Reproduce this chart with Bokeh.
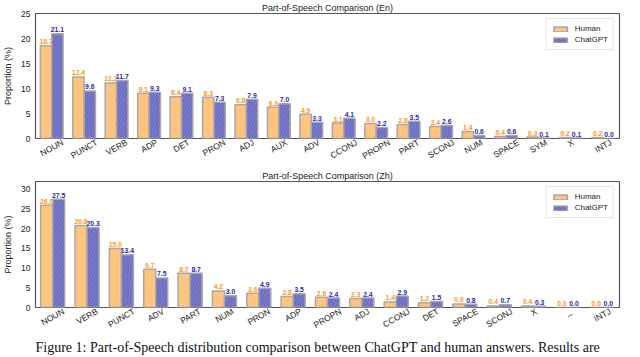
import math
from bokeh.plotting import figure
from bokeh.models import (Range1d, Legend, LegendItem, Title, ColumnDataSource, FixedTicker)
from bokeh.transform import dodge
from bokeh.layouts import column
from bokeh.core.properties import value
from bokeh.embed import file_html
from bokeh.resources import INLINE

# ---- data ----
en_categories = ["NOUN", "PUNCT", "VERB", "ADP", "DET", "PRON", "ADJ", "AUX", "ADV",
                 "CCONJ", "PROPN", "PART", "SCONJ", "NUM", "SPACE", "SYM", "X", "INTJ"]
en_human = [18.7, 12.4, 11.2, 9.1, 8.4, 8.3, 6.8, 6.3, 4.9, 3.1, 3.0, 2.8, 2.4, 1.4, 0.4, 0.3, 0.2, 0.2]
en_chatgpt = [21.1, 9.6, 11.7, 9.3, 9.1, 7.3, 7.9, 7.0, 3.3, 4.1, 2.2, 3.5, 2.6, 0.6, 0.6, 0.1, 0.1, 0.0]

zh_categories = ["NOUN", "VERB", "PUNCT", "ADV", "PART", "NUM", "PRON", "ADP", "PROPN",
                 "ADJ", "CCONJ", "DET", "SPACE", "SCONJ", "X", "_", "INTJ"]
zh_human = [26.0, 20.8, 15.0, 9.7, 8.7, 4.2, 3.6, 2.8, 2.6, 2.3, 1.4, 1.2, 0.9, 0.4, 0.4, 0.0, 0.0]
zh_chatgpt = [27.5, 20.3, 13.4, 7.5, 8.7, 3.0, 4.9, 3.5, 2.4, 2.4, 2.9, 1.5, 0.8, 0.7, 0.3, 0.0, 0.0]

series_names = ["Human", "ChatGPT"]
caption = ("Figure 1: Part-of-Speech distribution comparison between ChatGPT and human answers. "
           "Results are")

FONT = "Liberation Sans"
HUMAN_FILL = "#FFC47F"
GPT_FILL = "#7B7BCB"
HUMAN_TXT = "#FF9614"
GPT_TXT = "#2828A8"
EDGE = "#A8A8A8"
FRAME_W = 584
XLABEL_PX = 8.5

# approximate Liberation Sans advance widths (em) used to centre rotated tick labels
_EM = {"N": .722, "O": .778, "U": .722, "P": .667, "C": .722, "T": .611, "V": .667,
       "E": .667, "R": .722, "B": .667, "A": .667, "D": .722, "J": .5, "S": .667,
       "X": .667, "Y": .667, "M": .833, "I": .278, "_": .556}


def text_w(s, px):
    return sum(_EM.get(ch, .6) for ch in s) * px


def make_plot(cats, human, gpt, ymax, title, frame_h, border_top, border_bottom):
    n = len(cats)
    p = figure(x_range=Range1d(0, n),
               y_range=Range1d(0, ymax),
               frame_width=FRAME_W, frame_height=frame_h,
               min_border_left=32, min_border_right=8,
               min_border_top=border_top, min_border_bottom=border_bottom,
               output_backend="svg", toolbar_location=None,
               background_fill_color="white", border_fill_color="white")
    src = ColumnDataSource(dict(cat=cats, xc=[i + 0.5 for i in range(n)],
                                human=human, gpt=gpt,
                                hl=[f"{v:.1f}" for v in human],
                                gl=[f"{v:.1f}" for v in gpt]))
    w = 0.35
    r1 = p.vbar(x=dodge("xc", -w / 2), top="human", width=w, source=src,
                fill_color=HUMAN_FILL, line_color=EDGE, line_width=1.5)
    r2 = p.vbar(x=dodge("xc", w / 2), top="gpt", width=w, source=src,
                fill_color=GPT_FILL, line_color=EDGE, line_width=1.5,
                hatch_pattern="/", hatch_color="#5A5AB4", hatch_scale=6, hatch_weight=0.7)
    t1 = p.text(x=dodge("xc", -w / 2), y="human", text="hl", source=src,
                text_align="center", text_baseline="bottom", y_offset=-1.5,
                text_font=value(FONT), text_font_size="6.8px", text_color=HUMAN_TXT,
                text_font_style="bold")
    t2 = p.text(x=dodge("xc", w / 2), y="gpt", text="gl", source=src,
                text_align="center", text_baseline="bottom", y_offset=-1.5,
                text_font=value(FONT), text_font_size="6.8px", text_color=GPT_TXT,
                text_font_style="bold")
    t1.level = "overlay"
    t2.level = "overlay"

    p.title.text = title
    p.title.align = "center"
    p.title.text_font = FONT
    p.title.text_font_size = "9px"
    p.title.text_font_style = "normal"
    p.title.text_color = "#222222"
    p.title.standoff = 1
    p.title.offset = 0

    p.xgrid.grid_line_color = None
    p.ygrid.grid_line_color = None
    p.outline_line_color = "#555555"
    p.outline_line_width = 1.2

    # rotated category labels, shifted so each label is centred under its group
    px_per_unit = FRAME_W / n
    ang = 0.52
    ticks, overrides = [], {}
    for i, c in enumerate(cats):
        shift = (text_w(c, XLABEL_PX) / 2) * math.cos(ang) / px_per_unit
        t = round(i + 0.5 + shift, 4)
        ticks.append(t)
        overrides[t] = c
    p.xaxis.ticker = FixedTicker(ticks=ticks, minor_ticks=[])
    p.xaxis.major_label_overrides = overrides
    p.xaxis.major_label_orientation = ang
    p.xaxis.major_label_standoff = 3

    for ax in (p.xaxis[0], p.yaxis[0]):
        ax.axis_line_color = None
        ax.major_tick_line_color = None
        ax.minor_tick_line_color = None
        ax.major_tick_out = 0
        ax.major_tick_in = 0
        ax.minor_tick_out = 0
        ax.minor_tick_in = 0
        ax.major_label_text_font = FONT
        ax.major_label_text_color = "#222222"
    p.xaxis.major_label_text_font_size = f"{XLABEL_PX}px"
    p.yaxis.major_label_text_font_size = "8.5px"
    p.yaxis.major_label_standoff = 5
    p.yaxis.axis_label = "Proportion (%)"
    p.yaxis.axis_label_text_font = FONT
    p.yaxis.axis_label_text_font_size = "9px"
    p.yaxis.axis_label_text_font_style = "normal"
    p.yaxis.axis_label_text_color = "#222222"
    p.yaxis.axis_label_standoff = 5

    legend = Legend(items=[LegendItem(label=series_names[0], renderers=[r1]),
                           LegendItem(label=series_names[1], renderers=[r2])],
                    location="top_right",
                    label_text_font=FONT, label_text_font_size="8px",
                    label_text_color="#222222",
                    glyph_width=17, glyph_height=6, label_height=9,
                    spacing=2, padding=5, margin=5, label_standoff=6,
                    border_line_color="#CCCCCC", border_line_width=1,
                    background_fill_color="white", background_fill_alpha=0.9)
    p.add_layout(legend, "center")
    return p


p1 = make_plot(en_categories, en_human, en_chatgpt, 25.2,
               "Part-of-Speech Comparison (En)", 125, 0, 0)
p2 = make_plot(zh_categories, zh_human, zh_chatgpt, 32.0,
               "Part-of-Speech Comparison (Zh)", 126, 0, 0)
p2.add_layout(Title(text=caption, align="left", text_font="Liberation Serif",
                    text_font_size="14px", text_font_style="normal",
                    text_color="#111111", standoff=1, offset=0), "below")

layout = column(p1, p2, spacing=0)
open("out.html", "w").write(file_html(layout, INLINE))
